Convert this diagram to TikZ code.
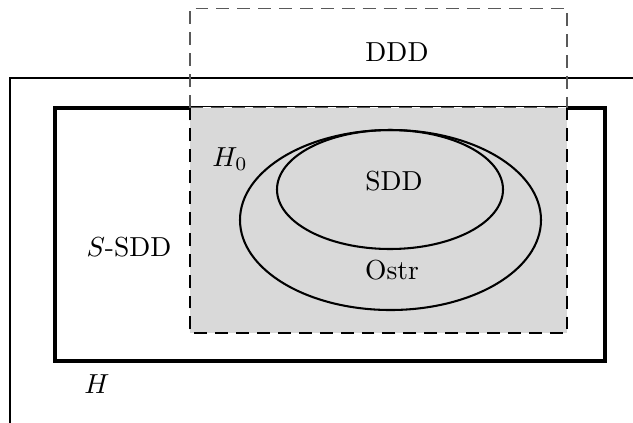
\documentclass[tikz,border=0pt]{standalone}
\begin{document}
\begin{tikzpicture}[x=0.3636pt,y=-0.3636pt,
  setline/.style={line width=0.75pt},
  bigset/.style={line width=1.15pt},
  ddddash/.style={dash pattern=on 4.7pt off 2.9pt},
  lbl/.style={inner sep=0pt, font=\normalsize}]
\useasboundingbox (0,0) rectangle (633,422);
\begin{scope}
\clip (0,0) rectangle (633,422);
% H : outer space, runs off the page
\draw[setline] (10,424.3) -- (10,78) -- (645,78);
\draw[setline, black!30] (10,424.3) -- (645,424.3);
\end{scope}
% S-SDD
\draw[bigset] (55,108) rectangle (605,361);
% DDD, upper part
\draw[line width=0.6pt, black!65, ddddash] (190,107.5) -- (190,8.5) -- (567,8.5) -- (567,107.5);
% H_0 = DDD inside S-SDD
\fill[black!15] (190,107) rectangle (567,333);
\draw[white, line width=0.6pt] (190,107.5) -- (567,107.5);
\draw[line width=0.6pt, black!65, ddddash] (190,107.5) -- (567,107.5);
\draw[line width=1pt, ddddash] (567,107.5) -- (567,333) -- (190,333) -- (190,107.5);
% Ostr and SDD
\draw[setline] (390.5,220) ellipse [x radius=150.5, y radius=90];
\draw[setline] (390,189.5) ellipse [x radius=113, y radius=59.5];
% labels
\node[lbl] (ddd) at (397,52) {DDD};
\node[lbl] (hzero) at (230,159) {$H_0$};
\node[lbl] (sdd) at (394,181) {SDD};
\node[lbl] (ostr) at (392,270) {Ostr};
\node[lbl] (ssdd) at (129,247) {$S$-SDD};
\node[lbl] (h) at (97,384) {$H$};
\end{tikzpicture}
\end{document}
